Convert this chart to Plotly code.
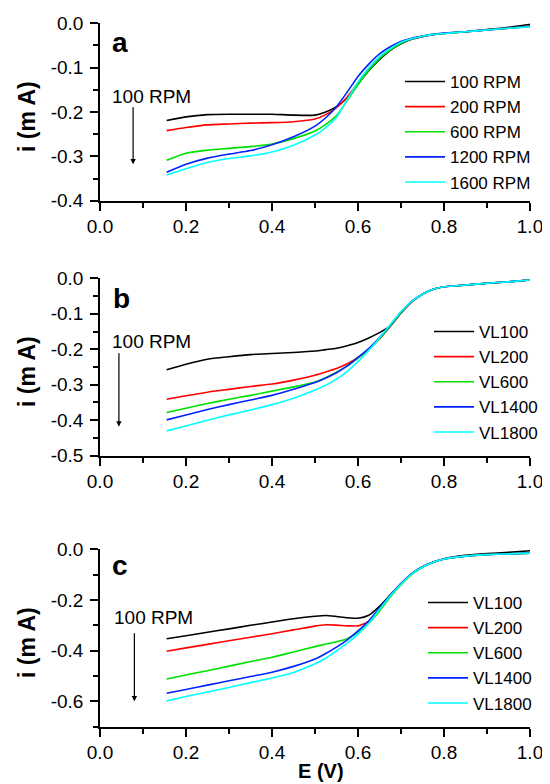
import plotly.graph_objects as go

W, H = 550, 784
OFF = 8  # page body margin of the html document

# ---------------- data ----------------
E = [0.155, 0.2, 0.25, 0.3, 0.35, 0.4, 0.45, 0.5, 0.525, 0.55, 0.575, 0.6, 0.625,
     0.65, 0.675, 0.7, 0.725, 0.75, 0.775, 0.8, 0.85, 0.9, 0.95, 1.0]

names_a = ["100 RPM", "200 RPM", "600 RPM", "1200 RPM", "1600 RPM"]
names_bc = ["VL100", "VL200", "VL600", "VL1400", "VL1800"]
colors = ["#000000", "#FF0000", "#00E000", "#0022FF", "#00FFFF"]

a_100 = [-0.219, -0.211, -0.206, -0.205, -0.205, -0.205, -0.207, -0.207, -0.200, -0.188, -0.168, -0.137, -0.107,
         -0.082, -0.061, -0.046, -0.036, -0.030, -0.026, -0.023, -0.019, -0.014, -0.009, -0.002]
a_200 = [-0.242, -0.235, -0.229, -0.227, -0.225, -0.224, -0.222, -0.216, -0.206, -0.190, -0.166, -0.135, -0.104,
         -0.079, -0.059, -0.044, -0.035, -0.029, -0.025, -0.023, -0.019, -0.015, -0.011, -0.006]
a_600 = [-0.309, -0.293, -0.286, -0.282, -0.278, -0.272, -0.260, -0.243, -0.228, -0.208, -0.174, -0.138, -0.106,
         -0.080, -0.060, -0.045, -0.035, -0.029, -0.025, -0.023, -0.019, -0.015, -0.011, -0.007]
a_1200 = [-0.336, -0.318, -0.304, -0.295, -0.287, -0.274, -0.256, -0.232, -0.213, -0.188, -0.155, -0.120, -0.092,
          -0.069, -0.053, -0.041, -0.034, -0.029, -0.025, -0.022, -0.019, -0.015, -0.011, -0.007]
a_1600 = [-0.342, -0.328, -0.314, -0.305, -0.299, -0.290, -0.275, -0.252, -0.235, -0.212, -0.172, -0.132, -0.100,
          -0.075, -0.057, -0.043, -0.035, -0.029, -0.025, -0.023, -0.019, -0.015, -0.011, -0.008]

b_100 = [-0.258, -0.242, -0.228, -0.221, -0.215, -0.212, -0.209, -0.205, -0.201, -0.197, -0.190, -0.181, -0.168,
         -0.153, -0.134, -0.098, -0.066, -0.045, -0.031, -0.024, -0.019, -0.014, -0.010, -0.005]
b_200 = [-0.341, -0.331, -0.321, -0.313, -0.305, -0.298, -0.287, -0.273, -0.264, -0.254, -0.241, -0.223, -0.200,
         -0.171, -0.136, -0.098, -0.067, -0.045, -0.031, -0.024, -0.019, -0.014, -0.010, -0.004]
b_600 = [-0.378, -0.366, -0.353, -0.341, -0.330, -0.318, -0.306, -0.292, -0.280, -0.265, -0.247, -0.225, -0.201,
         -0.170, -0.135, -0.097, -0.066, -0.045, -0.031, -0.024, -0.019, -0.014, -0.010, -0.005]
b_1400 = [-0.399, -0.385, -0.370, -0.356, -0.343, -0.330, -0.313, -0.294, -0.281, -0.266, -0.247, -0.223, -0.198,
          -0.167, -0.132, -0.095, -0.065, -0.045, -0.031, -0.024, -0.019, -0.014, -0.010, -0.005]
b_1800 = [-0.430, -0.416, -0.400, -0.385, -0.371, -0.356, -0.338, -0.315, -0.301, -0.284, -0.262, -0.235, -0.203,
          -0.168, -0.131, -0.094, -0.065, -0.045, -0.031, -0.024, -0.019, -0.014, -0.010, -0.005]

c_100 = [-0.353, -0.341, -0.327, -0.314, -0.300, -0.287, -0.274, -0.264, -0.261, -0.265, -0.270, -0.272, -0.260,
         -0.225, -0.180, -0.135, -0.096, -0.069, -0.050, -0.037, -0.024, -0.017, -0.012, -0.006]
c_200 = [-0.402, -0.389, -0.375, -0.361, -0.347, -0.333, -0.318, -0.303, -0.298, -0.299, -0.302, -0.302, -0.285,
         -0.238, -0.182, -0.136, -0.097, -0.070, -0.051, -0.038, -0.027, -0.021, -0.018, -0.015]
c_600 = [-0.512, -0.496, -0.479, -0.461, -0.443, -0.426, -0.405, -0.384, -0.374, -0.365, -0.353, -0.328, -0.292,
         -0.243, -0.188, -0.140, -0.099, -0.071, -0.052, -0.039, -0.027, -0.021, -0.018, -0.015]
c_1400 = [-0.568, -0.553, -0.536, -0.519, -0.502, -0.485, -0.462, -0.433, -0.411, -0.386, -0.357, -0.322, -0.283,
          -0.232, -0.180, -0.135, -0.096, -0.069, -0.051, -0.038, -0.027, -0.021, -0.018, -0.015]
c_1800 = [-0.598, -0.581, -0.563, -0.545, -0.526, -0.508, -0.486, -0.452, -0.430, -0.401, -0.370, -0.335, -0.292,
          -0.237, -0.183, -0.137, -0.097, -0.070, -0.051, -0.038, -0.027, -0.021, -0.018, -0.015]

x_ticks = [0.0, 0.2, 0.4, 0.6, 0.8, 1.0]
ya_ticks = [0.0, -0.1, -0.2, -0.3, -0.4]
ya_labels = ["0.0", "-0.1", "-0.2", "-0.3", "-0.4"]
yb_ticks = [0.0, -0.1, -0.2, -0.3, -0.4, -0.5]
yb_labels = ["0.0", "-0.1", "-0.2", "-0.3", "-0.4", "-0.5"]
yc_ticks = [0.0, -0.2, -0.4, -0.6]
yc_labels = ["0.0", "-0.2", "-0.4", "-0.6"]

panels = [
    ("a", names_a, [a_100, a_200, a_600, a_1200, a_1600]),
    ("b", names_bc, [b_100, b_200, b_600, b_1400, b_1800]),
    ("c", names_bc, [c_100, c_200, c_600, c_1400, c_1800]),
]


def px_x(p):  # page pixel -> paper fraction
    return (p - OFF) / W


def px_y(p):
    return 1 - (p - OFF) / H


# ---------------- layout geometry (page pixels) ----------------
X0, X1 = 100, 530
panel_px = [(23.3, 200.7), (278.3, 455.7), (549.3, 726.7)]
yranges = [[-0.4, 0.0], [-0.5, 0.0], [-0.7, 0.0]]
yticks = [(ya_ticks, ya_labels, 0.05), (yb_ticks, yb_labels, 0.05), (yc_ticks, yc_labels, 0.1)]
legend_px = [(400, 64), (429, 314), (423, 585)]
arrows = [  # (E head, i head, E tail, i tail, E text, i text)
    (0.077, -0.318, 0.077, -0.186, 0.119, -0.166),
    (0.044, -0.418, 0.044, -0.207, 0.120, -0.178),
    (0.080, -0.600, 0.080, -0.325, 0.124, -0.270),
]
letter_px = [(120, 43), (121, 298), (120, 565)]

FONT = "Arial, Liberation Sans, sans-serif"

fig = go.Figure()
annotations = []
for k, (letter, names, series) in enumerate(panels):
    xa = "x" if k == 0 else f"x{k+1}"
    ya = "y" if k == 0 else f"y{k+1}"
    lg = "legend" if k == 0 else f"legend{k+1}"
    for name, vals, col in zip(names, series, colors):
        fig.add_trace(go.Scatter(x=E, y=vals, mode="lines", name=name,
                                 line=dict(color=col, width=1.6, shape="spline", smoothing=0.6),
                                 xaxis=xa, yaxis=ya, legend=lg))
    top, bot = panel_px[k]
    dom_y = [px_y(bot), px_y(top)]
    tv, tt, mdt = yticks[k]
    axis_common = dict(showline=True, linecolor="black", linewidth=1.6, ticks="outside",
                       ticklen=8, tickwidth=1.6, tickcolor="black", showgrid=False, zeroline=False,
                       automargin=False,
                       tickfont=dict(family=FONT, size=19, color="black"))
    fig.update_layout(**{
        ("xaxis" if k == 0 else f"xaxis{k+1}"): dict(
            domain=[px_x(X0), px_x(X1)], range=[0, 1.0], anchor=ya,
            tickmode="array", tickvals=x_ticks, ticktext=[f"{v:.1f}" for v in x_ticks],
            minor=dict(ticks="outside", ticklen=5, tickwidth=1.6, tickcolor="black", dtick=0.1, tick0=0),
            ticklabelstandoff=0, **axis_common),
        ("yaxis" if k == 0 else f"yaxis{k+1}"): dict(
            domain=dom_y, range=yranges[k], anchor=xa,
            tickmode="array", tickvals=tv, ticktext=tt,
            minor=dict(ticks="outside", ticklen=5, tickwidth=1.6, tickcolor="black", dtick=mdt, tick0=0),
            ticklabelstandoff=3, **axis_common),
        lg: dict(x=px_x(legend_px[k][0]), y=px_y(legend_px[k][1]), xanchor="left", yanchor="top",
                 bgcolor="rgba(0,0,0,0)", borderwidth=0, itemwidth=40,
                 font=dict(family=FONT, size=17, color="black"), tracegroupgap=0),
    })
    eh, ih, et, it, ex, iy = arrows[k]
    annotations.append(dict(x=eh, y=ih, ax=et, ay=it, xref=xa, yref=ya, axref=xa, ayref=ya,
                            text="", showarrow=True, arrowhead=2, arrowsize=0.9, arrowwidth=1.2,
                            arrowcolor="black"))
    annotations.append(dict(x=ex, y=iy, xref=xa, yref=ya, text="100 RPM", showarrow=False,
                            font=dict(family=FONT, size=19, color="black")))
    lx, ly = letter_px[k]
    annotations.append(dict(x=px_x(lx), y=px_y(ly), xref="paper", yref="paper", text=f"<b>{letter}</b>",
                            showarrow=False, xanchor="center", yanchor="middle",
                            font=dict(family=FONT, size=28, color="black")))
    annotations.append(dict(x=px_x(27), y=px_y((top + bot) / 2 + 5), xref="paper", yref="paper",
                            text="<b>i (m A)</b>", textangle=-90, showarrow=False,
                            xanchor="center", yanchor="middle",
                            font=dict(family=FONT, size=23, color="black")))

annotations.append(dict(x=px_x(321), y=px_y(771), xref="paper", yref="paper", text="<b>E (V)</b>",
                        showarrow=False, xanchor="center", yanchor="middle",
                        font=dict(family=FONT, size=20, color="black")))

fig.update_layout(width=W, height=H, margin=dict(l=0, r=0, t=0, b=0, autoexpand=False),
                  plot_bgcolor="white", paper_bgcolor="white", showlegend=True,
                  annotations=annotations)

fig.write_html("out.html")
